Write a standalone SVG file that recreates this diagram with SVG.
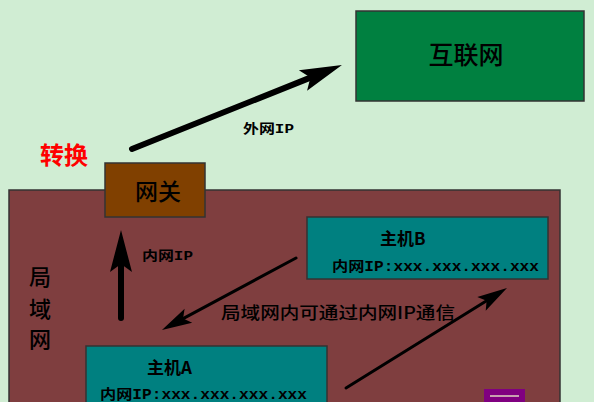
<svg xmlns="http://www.w3.org/2000/svg" width="594" height="402" viewBox="0 0 594 402">
<style>
.box{stroke:#333;stroke-width:1.5}
.cjk{font-family:"Noto Sans CJK SC","Noto Sans",sans-serif}
.b{font-weight:bold}
.ip{font-family:"Liberation Mono","Noto Sans CJK SC",monospace;font-weight:bold;font-size:14px;fill:#000}
.conn{stroke:#000;fill:none}
</style>
<defs>
<marker id="big" viewBox="-10 -12 46 24" markerWidth="46" markerHeight="24" refX="0" refY="0" orient="auto" markerUnits="userSpaceOnUse">
<path d="M0,0 L-8,-11 L34,0 L-8,11 z" fill="#000"/>
</marker>
<marker id="small" viewBox="-8 -10 34 20" markerWidth="34" markerHeight="20" refX="0" refY="0" orient="auto" markerUnits="userSpaceOnUse">
<path d="M0,0 L-6,-8 L24,0 L-6,8 z" fill="#000"/>
</marker>
</defs>
<rect width="594" height="402" fill="#D0EDD3"/>
<g id="lan">
<rect class="box" x="9" y="190" width="551" height="230" fill="#7F3E3F"/>
<text class="cjk" font-weight="500" font-size="22" x="40" y="285" text-anchor="middle">局</text>
<text class="cjk" font-weight="500" font-size="22" x="40" y="317" text-anchor="middle">域</text>
<text class="cjk" font-weight="500" font-size="22" x="40" y="347" text-anchor="middle">网</text>
</g>
<g id="internet">
<rect class="box" x="356" y="11" width="228" height="90" fill="#008040"/>
<text class="cjk" font-weight="500" font-size="25" x="466" y="64" text-anchor="middle">互联网</text>
</g>
<g id="gateway">
<rect class="box" x="105" y="163" width="100" height="54" fill="#804000"/>
<text class="cjk" font-weight="500" font-size="23" x="158" y="200" text-anchor="middle">网关</text>
</g>
<g id="convert">
<text class="cjk" font-weight="bold" font-size="24" x="40" y="164" fill="#FF0000">转换</text>
</g>
<g id="hostB">
<rect class="box" x="307" y="217" width="241" height="62" fill="#008080"/>
<text class="cjk b" font-size="17" x="380" y="245">主机B</text>
<text class="ip" x="332" y="271" textLength="207" lengthAdjust="spacingAndGlyphs">内网IP:xxx.xxx.xxx.xxx</text>
</g>
<g id="hostA">
<rect class="box" x="86" y="346" width="241" height="70" fill="#008080"/>
<text class="cjk b" font-size="17" x="147" y="374">主机A</text>
<text class="ip" x="100" y="399" textLength="207" lengthAdjust="spacingAndGlyphs">内网IP:xxx.xxx.xxx.xxx</text>
</g>
<g id="widget">
<rect x="484" y="389" width="41" height="16" fill="#800080"/>
<line x1="490" y1="396" x2="519" y2="396" stroke="#C8A0B0" stroke-width="2"/>
</g>
<g id="connectors">
<line class="conn" x1="132" y1="149" x2="310.4" y2="77.6" stroke-width="6" stroke-linecap="round" marker-end="url(#big)"/>
<line class="conn" x1="121" y1="318" x2="121" y2="264" stroke-width="6" stroke-linecap="round" marker-end="url(#big)"/>
<line class="conn" x1="296" y1="258" x2="183.1" y2="318.6" stroke-width="3" stroke-linecap="round" marker-end="url(#small)"/>
<line class="conn" x1="346" y1="388" x2="486.6" y2="300.7" stroke-width="3" stroke-linecap="round" marker-end="url(#small)"/>
<text class="ip" font-size="13" x="243" y="133" textLength="51" lengthAdjust="spacingAndGlyphs" style="font-size:13px">外网IP</text>
<text class="ip" x="142" y="260" textLength="51" lengthAdjust="spacingAndGlyphs" style="font-size:13px">内网IP</text>
<text class="cjk" font-weight="500" font-size="17" x="221" y="319" textLength="234" lengthAdjust="spacingAndGlyphs">局域网内可通过内网IP通信</text>
</g>
</svg>
